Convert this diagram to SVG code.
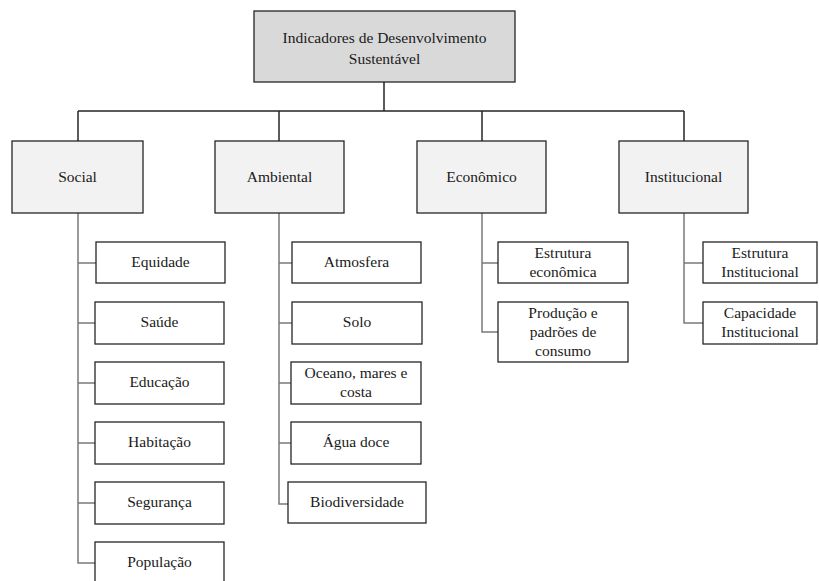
<svg xmlns="http://www.w3.org/2000/svg" width="819" height="581" viewBox="0 0 819 581">
<style>
text{font-family:"Liberation Serif","Times New Roman",serif;font-size:15.5px;fill:#1a1a1a;text-anchor:middle}
.root{fill:#d9d9d9;stroke:#262626;stroke-width:1.3}
.l1{fill:#f2f2f2;stroke:#262626;stroke-width:1.3}
.l2{fill:#fff;stroke:#262626;stroke-width:1.3}
.bus{fill:none;stroke:#262626;stroke-width:1.5}
.br{fill:none;stroke:#7a7a7a;stroke-width:1.5}
</style>
<rect width="819" height="581" fill="#fff"/>
<g id="connectors">
<path class="bus" d="M384,82V111M78,111H684M78,111V141M279,111V141M482,111V141M684,111V141"/>
<path class="br" d="M78,213V563H95M78,263H96M78,323H95M78,383H95M78,443H95M78,503H95"/>
<path class="br" d="M279,213V504H288M279,263H292M279,323H292M279,383H291M279,443H291"/>
<path class="br" d="M482,213V332H498M482,263H498"/>
<path class="br" d="M684,213V323H703M684,263H703"/>
</g>
<g id="root"><rect class="root" x="254" y="11" width="261" height="71"/><text x="384.5" y="43">Indicadores de Desenvolvimento</text><text x="384.5" y="64">Sustentável</text></g>
<g id="social"><rect class="l1" x="12" y="141" width="131" height="72"/><text x="77.5" y="182">Social</text></g>
<g id="ambiental"><rect class="l1" x="215" y="141" width="129" height="72"/><text x="279.5" y="182">Ambiental</text></g>
<g id="economico"><rect class="l1" x="417" y="141" width="129" height="72"/><text x="481.5" y="182">Econômico</text></g>
<g id="institucional"><rect class="l1" x="619" y="141" width="129" height="72"/><text x="683.5" y="182">Institucional</text></g>
<g id="equidade"><rect class="l2" x="96" y="242" width="129" height="41"/><text x="160.5" y="267">Equidade</text></g>
<g id="saude"><rect class="l2" x="95" y="302" width="129" height="42"/><text x="159.5" y="327">Saúde</text></g>
<g id="educacao"><rect class="l2" x="95" y="362" width="129" height="42"/><text x="159.5" y="387">Educação</text></g>
<g id="habitacao"><rect class="l2" x="95" y="422" width="129" height="42"/><text x="159.5" y="447">Habitação</text></g>
<g id="seguranca"><rect class="l2" x="95" y="482" width="129" height="42"/><text x="159.5" y="507">Segurança</text></g>
<g id="populacao"><rect class="l2" x="95" y="542" width="129" height="42"/><text x="159.5" y="567">População</text></g>
<g id="atmosfera"><rect class="l2" x="292" y="242" width="129" height="41"/><text x="356.5" y="267">Atmosfera</text></g>
<g id="solo"><rect class="l2" x="292" y="302" width="130" height="42"/><text x="357" y="327">Solo</text></g>
<g id="oceano"><rect class="l2" x="291" y="362" width="130" height="42"/><text x="356" y="378">Oceano, mares e</text><text x="356" y="397">costa</text></g>
<g id="agua"><rect class="l2" x="291" y="422" width="130" height="42"/><text x="356" y="447">Água doce</text></g>
<g id="biodiversidade"><rect class="l2" x="288" y="482" width="138" height="41"/><text x="357" y="507">Biodiversidade</text></g>
<g id="estrutura-economica"><rect class="l2" x="498" y="242" width="130" height="41"/><text x="563" y="258">Estrutura</text><text x="563" y="277">econômica</text></g>
<g id="producao"><rect class="l2" x="498" y="302" width="130" height="60"/><text x="563" y="318">Produção e</text><text x="563" y="337">padrões de</text><text x="563" y="356">consumo</text></g>
<g id="estrutura-institucional"><rect class="l2" x="703" y="242" width="114" height="41"/><text x="760" y="258">Estrutura</text><text x="760" y="277">Institucional</text></g>
<g id="capacidade"><rect class="l2" x="703" y="302" width="114" height="42"/><text x="760" y="318">Capacidade</text><text x="760" y="337">Institucional</text></g>
</svg>
